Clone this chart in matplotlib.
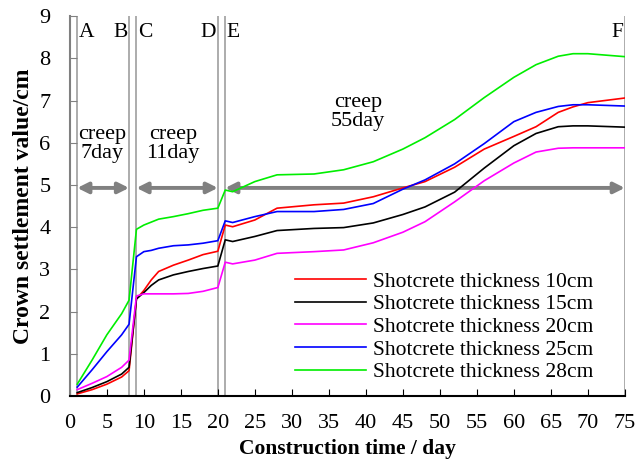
import numpy as np
import matplotlib
matplotlib.use('Agg')
import matplotlib.pyplot as plt

plt.rcParams['font.family'] = ['Liberation Serif', 'DejaVu Serif']

# construction time (day)
days = [1, 3, 5, 7, 8, 9, 10, 11, 12, 14, 16, 18, 20, 21, 22, 25, 28, 33, 37,
        41, 45, 48, 52, 56, 60, 63, 66, 68, 70, 75]

t10 = [0.05, 0.15, 0.28, 0.45, 0.60, 2.30, 2.50, 2.75, 2.95, 3.10, 3.22, 3.35, 3.43,
       4.05, 4.01, 4.17, 4.45, 4.53, 4.57, 4.72, 4.93, 5.08, 5.42, 5.85, 6.15, 6.38,
       6.72, 6.85, 6.95, 7.06]
t15 = [0.08, 0.20, 0.34, 0.52, 0.68, 2.30, 2.45, 2.62, 2.75, 2.87, 2.95, 3.02, 3.08,
       3.70, 3.66, 3.78, 3.92, 3.97, 3.99, 4.10, 4.30, 4.48, 4.83, 5.40, 5.93, 6.22,
       6.38, 6.40, 6.40, 6.37]
t20 = [0.15, 0.30, 0.46, 0.68, 0.85, 2.37, 2.42, 2.42, 2.42, 2.42, 2.43, 2.48, 2.57,
       3.17, 3.13, 3.22, 3.38, 3.42, 3.46, 3.63, 3.88, 4.13, 4.60, 5.10, 5.52, 5.78,
       5.87, 5.88, 5.88, 5.88]
t25 = [0.21, 0.62, 1.05, 1.45, 1.70, 3.30, 3.42, 3.45, 3.50, 3.56, 3.58, 3.62, 3.68,
       4.15, 4.11, 4.25, 4.37, 4.37, 4.42, 4.56, 4.90, 5.12, 5.50, 5.98, 6.50, 6.72,
       6.86, 6.90, 6.90, 6.87]
t28 = [0.28, 0.85, 1.45, 1.95, 2.27, 3.95, 4.05, 4.12, 4.19, 4.25, 4.32, 4.40, 4.45,
       4.88, 4.84, 5.08, 5.24, 5.26, 5.36, 5.55, 5.85, 6.12, 6.55, 7.07, 7.55, 7.85,
       8.05, 8.11, 8.11, 8.04]

series = [t10, t15, t20, t25, t28]
names = ['Shotcrete thickness 10cm', 'Shotcrete thickness 15cm',
         'Shotcrete thickness 20cm', 'Shotcrete thickness 25cm',
         'Shotcrete thickness 28cm']
colors = ['#ff0000', '#000000', '#ff00ff', '#0000ff', '#00ee00']

# stage lines and labels
stage_x = [1, 8, 9, 20, 21, 75]
stage_lab = ['A', 'B', 'C', 'D', 'E', 'F']
stage_ha = ['left', 'right', 'left', 'right', 'left', 'right']

# creep periods
creep_from = [1, 9, 21]
creep_to = [8, 20, 75]
creep_txt = ['creep\n7day', 'creep\n11day', 'creep\n55day']
creep_pos = [(4.4, 5.98), (13.9, 5.98), (38.9, 6.73)]

fig = plt.figure(figsize=(6.35, 4.61), dpi=100)
ax = fig.add_axes([0.110, 0.141, 0.874, 0.824])

for sx in stage_x:
    ax.axvline(sx, color='#a6a6a6', lw=1.3, zorder=1)

for ys, nm, c in zip(series, names, colors):
    ax.plot(days, ys, color=c, lw=1.2, label=nm, zorder=3)

for sx, lab, ha in zip(stage_x, stage_lab, stage_ha):
    off = 0.2 if ha == 'left' else -0.2
    ax.text(sx + off, 8.62, lab, fontsize=15.5, ha=ha, va='center')

for a, b, txt, pos in zip(creep_from, creep_to, creep_txt, creep_pos):
    ax.annotate('', xy=(b, 4.93), xytext=(a, 4.93),
                arrowprops=dict(arrowstyle='<|-|>', color='#808080', lw=2.8,
                                mutation_scale=16, shrinkA=0, shrinkB=0),
                zorder=2)
    ax.text(pos[0], pos[1], txt, fontsize=16, ha='center', va='center',
            linespacing=1.0)

ax.set_xlim(0, 75)
ax.set_ylim(0, 9)
ax.set_xticks(np.arange(0, 76, 5))
ax.set_yticks(np.arange(0, 10, 1))
ax.tick_params(direction='in', length=5, labelsize=16)
ax.tick_params(axis='x', pad=13)
ax.tick_params(axis='y', colors='#808080', labelcolor='black', pad=14)

ax.spines['top'].set_visible(False)
ax.spines['right'].set_visible(False)
ax.spines['left'].set_color('#808080')
ax.spines['left'].set_linewidth(1.5)
ax.spines['bottom'].set_linewidth(1.5)

ax.set_xlabel('Construction time / day', fontsize=15.5, fontweight='bold', labelpad=4)
ax.set_ylabel('Crown settlement value/cm', fontsize=17, fontweight='bold', labelpad=4)

ax.legend(loc='upper left', bbox_to_anchor=(0.39, 0.35), frameon=False,
          fontsize=15.5, handlelength=3.3, handletextpad=0.35, labelspacing=0.12,
          borderaxespad=0)

plt.savefig('out.png', dpi=100)
